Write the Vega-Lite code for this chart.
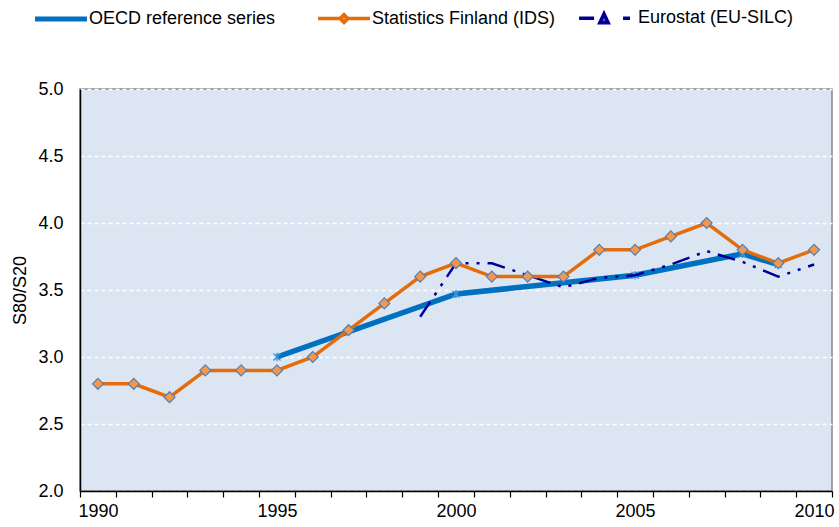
{
  "$schema": "https://vega.github.io/schema/vega-lite/v6.json",
  "autosize": {"type": "none"},
  "padding": {"left": 80, "top": 89, "right": 7, "bottom": 36},
  "width": 752,
  "height": 402,
  "background": "#FFFFFF",
  "config": {
    "font": "Liberation Sans",
    "view": {"fill": "#DCE6F2", "stroke": "#868686", "strokeWidth": 1.5}
  },
  "data": {
    "values": [
      {"series": "OECD reference series", "year": 1995, "value": 3.0},
      {"series": "OECD reference series", "year": 2000, "value": 3.47},
      {"series": "OECD reference series", "year": 2005, "value": 3.61},
      {"series": "OECD reference series", "year": 2008, "value": 3.77},
      {"series": "OECD reference series", "year": 2009, "value": 3.69},
      {"series": "Statistics Finland (IDS)", "year": 1990, "value": 2.8},
      {"series": "Statistics Finland (IDS)", "year": 1991, "value": 2.8},
      {"series": "Statistics Finland (IDS)", "year": 1992, "value": 2.7},
      {"series": "Statistics Finland (IDS)", "year": 1993, "value": 2.9},
      {"series": "Statistics Finland (IDS)", "year": 1994, "value": 2.9},
      {"series": "Statistics Finland (IDS)", "year": 1995, "value": 2.9},
      {"series": "Statistics Finland (IDS)", "year": 1996, "value": 3.0},
      {"series": "Statistics Finland (IDS)", "year": 1997, "value": 3.2},
      {"series": "Statistics Finland (IDS)", "year": 1998, "value": 3.4},
      {"series": "Statistics Finland (IDS)", "year": 1999, "value": 3.6},
      {"series": "Statistics Finland (IDS)", "year": 2000, "value": 3.7},
      {"series": "Statistics Finland (IDS)", "year": 2001, "value": 3.6},
      {"series": "Statistics Finland (IDS)", "year": 2002, "value": 3.6},
      {"series": "Statistics Finland (IDS)", "year": 2003, "value": 3.6},
      {"series": "Statistics Finland (IDS)", "year": 2004, "value": 3.8},
      {"series": "Statistics Finland (IDS)", "year": 2005, "value": 3.8},
      {"series": "Statistics Finland (IDS)", "year": 2006, "value": 3.9},
      {"series": "Statistics Finland (IDS)", "year": 2007, "value": 4.0},
      {"series": "Statistics Finland (IDS)", "year": 2008, "value": 3.8},
      {"series": "Statistics Finland (IDS)", "year": 2009, "value": 3.7},
      {"series": "Statistics Finland (IDS)", "year": 2010, "value": 3.8},
      {"series": "Eurostat (EU-SILC)", "year": 1999, "value": 3.30},
      {"series": "Eurostat (EU-SILC)", "year": 2000, "value": 3.70},
      {"series": "Eurostat (EU-SILC)", "year": 2001, "value": 3.70},
      {"series": "Eurostat (EU-SILC)", "year": 2002, "value": 3.61},
      {"series": "Eurostat (EU-SILC)", "year": 2003, "value": 3.52},
      {"series": "Eurostat (EU-SILC)", "year": 2004, "value": 3.59},
      {"series": "Eurostat (EU-SILC)", "year": 2005, "value": 3.61},
      {"series": "Eurostat (EU-SILC)", "year": 2006, "value": 3.69},
      {"series": "Eurostat (EU-SILC)", "year": 2007, "value": 3.79},
      {"series": "Eurostat (EU-SILC)", "year": 2008, "value": 3.71},
      {"series": "Eurostat (EU-SILC)", "year": 2009, "value": 3.60},
      {"series": "Eurostat (EU-SILC)", "year": 2010, "value": 3.69}
    ]
  },
  "encoding": {
    "x": {
      "field": "year",
      "type": "ordinal",
      "bandPosition": 0.5,
      "scale": {"type": "band", "paddingInner": 0, "paddingOuter": 0},
      "axis": {
        "title": null,
        "labelAngle": 0,
        "tickBand": "extent",
        "labelExpr": "datum.value % 5 === 0 ? datum.label : ''",
        "labelFontSize": 18,
        "labelColor": "#000000",
        "labelPadding": 5,
        "domainColor": "#000000",
        "domainWidth": 1.5,
        "tickColor": "#000000",
        "tickWidth": 1.2,
        "tickSize": 6,
        "grid": false
      }
    },
    "y": {
      "field": "value",
      "type": "quantitative",
      "scale": {"domain": [2, 5], "nice": false, "zero": false},
      "axis": {
        "title": "S80/S20",
        "titleFontSize": 18,
        "titleFontWeight": "normal",
        "titleColor": "#000000",
        "titlePadding": 8,
        "values": [2, 2.5, 3, 3.5, 4, 4.5, 5],
        "format": ".1f",
        "labelFontSize": 18,
        "labelColor": "#000000",
        "labelPadding": 17,
        "ticks": false,
        "domainColor": "#000000",
        "domainWidth": 1.5,
        "grid": true,
        "gridColor": "#FFFFFF",
        "gridWidth": 1.5,
        "gridDash": [4, 3]
      }
    }
  },
  "layer": [
    {
      "transform": [{"filter": "datum.series === 'OECD reference series'"}],
      "mark": {"type": "line", "strokeWidth": 5.5, "strokeCap": "butt"},
      "encoding": {
        "color": {
          "field": "series",
          "type": "nominal",
          "scale": {
            "domain": ["OECD reference series", "Statistics Finland (IDS)", "Eurostat (EU-SILC)"],
            "range": ["#0070C0", "#E46C0A", "#000099"]
          },
          "legend": {
            "title": null,
            "orient": "none",
            "direction": "horizontal",
            "legendX": -28,
            "legendY": -80,
            "padding": 0,
            "columnPadding": 16,
            "symbolSize": 2704,
            "labelFontSize": 18,
            "labelColor": "#000000",
            "labelOffset": 19,
            "labelLimit": 400,
            "encode": {
              "labels": {
                "update": {
                  "dx": {"signal": "datum.value === 'Eurostat (EU-SILC)' ? 6 : 0"}
                }
              },
              "symbols": {
                "update": {
                  "size": {"value": 2704},
                  "shape": {"signal": "datum.value === 'OECD reference series' ? 'M-1,0H1M8.58,0' : datum.value === 'Statistics Finland (IDS)' ? 'M-1,0H-0.15M0.15,0H1M-0.15,0L0,-0.15L0.15,0L0,0.15Z' : 'M-0.96,0H-0.38M0.73,0H1M-0.16,0.17L0,-0.17L0.16,0.17Z'"},
                  "stroke": {"signal": "datum.value === 'OECD reference series' ? '#0070C0' : datum.value === 'Statistics Finland (IDS)' ? '#E46C0A' : '#8064A2'"},
                  "fill": {"signal": "datum.value === 'OECD reference series' ? 'transparent' : datum.value === 'Statistics Finland (IDS)' ? '#F79646' : '#8064A2'"},
                  "strokeWidth": {"signal": "datum.value === 'OECD reference series' ? 5 : 3.5"},
                  "strokeDash": {"value": [1, 0]},
                  "opacity": {"value": 1}
                }
              }
            }
          }
        }
      }
    },
    {
      "transform": [{"filter": "datum.series === 'OECD reference series'"}],
      "mark": {
        "type": "point",
        "shape": "M-1,-1L1,1M-1,1L1,-1M0,-1.2V1.2",
        "filled": false,
        "size": 50,
        "stroke": "#3D95DB",
        "strokeWidth": 1.3,
        "opacity": 1
      }
    },
    {
      "transform": [{"filter": "datum.series === 'Eurostat (EU-SILC)'"}],
      "mark": {"type": "line", "strokeWidth": 2.5, "strokeDash": [18, 8, 3, 8, 3, 8]},
      "encoding": {
        "color": {"field": "series", "type": "nominal"}
      }
    },
    {
      "transform": [{"filter": "datum.series === 'Statistics Finland (IDS)'"}],
      "mark": {"type": "line", "strokeWidth": 3.5},
      "encoding": {
        "color": {"field": "series", "type": "nominal"}
      }
    },
    {
      "transform": [{"filter": "datum.series === 'Statistics Finland (IDS)'"}],
      "mark": {
        "type": "point",
        "shape": "diamond",
        "filled": true,
        "size": 120,
        "fill": "#F79646",
        "stroke": "#4F81BD",
        "strokeWidth": 1.2,
        "opacity": 1
      }
    }
  ]
}
